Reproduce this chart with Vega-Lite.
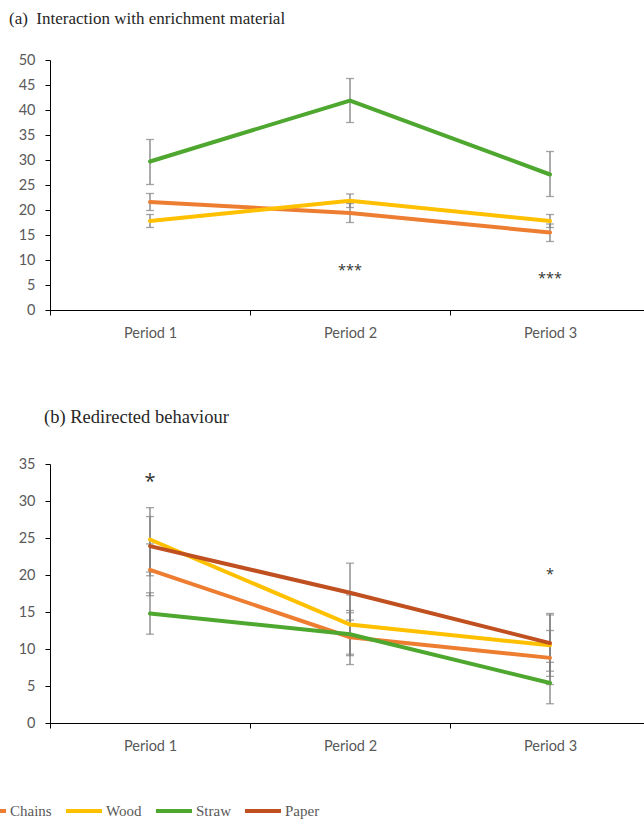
{
  "$schema": "https://vega.github.io/schema/vega-lite/v6.json",
  "padding": {"left": -32, "top": 10, "right": 0, "bottom": 0},
  "background": "white",
  "datasets": {
    "a": [
      {"period": "Period 1", "series": "Chains", "mean": 21.6, "lo": 19.9, "hi": 23.3},
      {"period": "Period 2", "series": "Chains", "mean": 19.4, "lo": 17.5, "hi": 21.3},
      {"period": "Period 3", "series": "Chains", "mean": 15.5, "lo": 13.7, "hi": 17.2},
      {"period": "Period 1", "series": "Wood", "mean": 17.8, "lo": 16.5, "hi": 19.1},
      {"period": "Period 2", "series": "Wood", "mean": 21.85, "lo": 20.5, "hi": 23.2},
      {"period": "Period 3", "series": "Wood", "mean": 17.8, "lo": 16.5, "hi": 19.1},
      {"period": "Period 1", "series": "Straw", "mean": 29.7, "lo": 25.1, "hi": 34.1},
      {"period": "Period 2", "series": "Straw", "mean": 41.9, "lo": 37.5, "hi": 46.3},
      {"period": "Period 3", "series": "Straw", "mean": 27.1, "lo": 22.7, "hi": 31.7}
    ],
    "b": [
      {"period": "Period 1", "series": "Chains", "mean": 20.7, "lo": 17.2, "hi": 24.2},
      {"period": "Period 2", "series": "Chains", "mean": 11.6, "lo": 7.9, "hi": 15.2},
      {"period": "Period 3", "series": "Chains", "mean": 8.8, "lo": 5.2, "hi": 12.5},
      {"period": "Period 1", "series": "Wood", "mean": 24.8, "lo": 20.4, "hi": 29.1},
      {"period": "Period 2", "series": "Wood", "mean": 13.3, "lo": 9.3, "hi": 17.3},
      {"period": "Period 3", "series": "Wood", "mean": 10.5, "lo": 6.3, "hi": 14.6},
      {"period": "Period 1", "series": "Straw", "mean": 14.8, "lo": 12.0, "hi": 17.6},
      {"period": "Period 2", "series": "Straw", "mean": 12.0, "lo": 9.1, "hi": 14.9},
      {"period": "Period 3", "series": "Straw", "mean": 5.4, "lo": 2.6, "hi": 8.2},
      {"period": "Period 1", "series": "Paper", "mean": 23.9, "lo": 19.9, "hi": 27.9},
      {"period": "Period 2", "series": "Paper", "mean": 17.6, "lo": 13.9, "hi": 21.6},
      {"period": "Period 3", "series": "Paper", "mean": 10.8, "lo": 7.0, "hi": 14.8}
    ],
    "sigA": [
      {"period": "Period 2", "y": 8.7, "label": "***"},
      {"period": "Period 3", "y": 7.0, "label": "***"}
    ],
    "sigB": [
      {"period": "Period 1", "y": 33.2, "label": "*"},
      {"period": "Period 3", "y": 20.5, "label": "*"}
    ]
  },
  "config": {
    "view": {"stroke": null},
    "axis": {
      "grid": false,
      "domainColor": "#000000",
      "tickColor": "#000000",
      "domainWidth": 1,
      "tickWidth": 1,
      "tickSize": 5,
      "labelColor": "#595959",
      "labelFont": "Lato",
      "labelFontSize": 14.5,
      "title": null
    },
    "title": {
      "font": "Liberation Serif",
      "fontWeight": "normal",
      "color": "#262626",
      "anchor": "start",
      "frame": "group",
      "baseline": "alphabetic"
    }
  },
  "bounds": "flush",
  "spacing": 154,
  "resolve": {"scale": {"color": "independent"}},
  "vconcat": [
    {
      "width": 600,
      "height": 250,
      "title": {"text": "(a)\u00a0 Interaction with enrichment material", "fontSize": 17, "dx": -41, "offset": 24},
      "encoding": {
        "x": {
          "field": "period",
          "type": "nominal",
          "scale": {"type": "band", "paddingInner": 0, "paddingOuter": 0},
          "axis": {"tickBand": "extent", "labelAngle": 0, "labelPadding": 11}
        }
      },
      "layer": [
        {
          "data": {"name": "a"},
          "mark": {"type": "rule", "color": "#7f7f7f", "strokeWidth": 1.3},
          "encoding": {
            "y": {"field": "lo", "type": "quantitative", "scale": {"domain": [0, 50]}, "axis": {"values": [0, 5, 10, 15, 20, 25, 30, 35, 40, 45, 50], "labelPadding": 10}},
            "y2": {"field": "hi"}
          }
        },
        {
          "data": {"name": "a"},
          "mark": {"type": "tick", "color": "#7f7f7f", "thickness": 1.3, "size": 8},
          "encoding": {"y": {"field": "lo", "type": "quantitative", "axis": {"values": [0, 5, 10, 15, 20, 25, 30, 35, 40, 45, 50], "labelPadding": 10}}}
        },
        {
          "data": {"name": "a"},
          "mark": {"type": "tick", "color": "#7f7f7f", "thickness": 1.3, "size": 8},
          "encoding": {"y": {"field": "hi", "type": "quantitative", "axis": {"values": [0, 5, 10, 15, 20, 25, 30, 35, 40, 45, 50], "labelPadding": 10}}}
        },
        {
          "data": {"name": "a"},
          "mark": {"type": "line", "strokeWidth": 4, "strokeCap": "round"},
          "encoding": {
            "y": {"field": "mean", "type": "quantitative", "axis": {"values": [0, 5, 10, 15, 20, 25, 30, 35, 40, 45, 50], "labelPadding": 10}},
            "color": {
              "field": "series",
              "type": "nominal",
              "scale": {"domain": ["Chains", "Wood", "Straw"], "range": ["#ED7D31", "#FFC000", "#4EA72E"]},
              "legend": null
            },
            "order": {"field": "period"}
          }
        },
        {
          "data": {"name": "sigA"},
          "mark": {"type": "text", "fontSize": 14.5, "font": "Open Sans", "color": "#333333", "baseline": "alphabetic", "dy": 8},
          "encoding": {
            "y": {"field": "y", "type": "quantitative", "axis": {"values": [0, 5, 10, 15, 20, 25, 30, 35, 40, 45, 50], "labelPadding": 10}},
            "text": {"field": "label"}
          }
        }
      ]
    },
    {
      "width": 600,
      "height": 259,
      "title": {"text": "(b) Redirected behaviour", "fontSize": 18.5, "dx": -6, "offset": 30},
      "encoding": {
        "x": {
          "field": "period",
          "type": "nominal",
          "scale": {"type": "band", "paddingInner": 0, "paddingOuter": 0},
          "axis": {"tickBand": "extent", "labelAngle": 0, "labelPadding": 11}
        }
      },
      "layer": [
        {
          "data": {"name": "b"},
          "mark": {"type": "rule", "color": "#7f7f7f", "strokeWidth": 1.3},
          "encoding": {
            "y": {"field": "lo", "type": "quantitative", "scale": {"domain": [0, 35]}, "axis": {"values": [0, 5, 10, 15, 20, 25, 30, 35], "labelPadding": 10}},
            "y2": {"field": "hi"}
          }
        },
        {
          "data": {"name": "b"},
          "mark": {"type": "tick", "color": "#7f7f7f", "thickness": 1.3, "size": 8},
          "encoding": {"y": {"field": "lo", "type": "quantitative", "axis": {"values": [0, 5, 10, 15, 20, 25, 30, 35], "labelPadding": 10}}}
        },
        {
          "data": {"name": "b"},
          "mark": {"type": "tick", "color": "#7f7f7f", "thickness": 1.3, "size": 8},
          "encoding": {"y": {"field": "hi", "type": "quantitative", "axis": {"values": [0, 5, 10, 15, 20, 25, 30, 35], "labelPadding": 10}}}
        },
        {
          "data": {"name": "b"},
          "mark": {"type": "line", "strokeWidth": 4, "strokeCap": "round"},
          "encoding": {
            "y": {"field": "mean", "type": "quantitative", "axis": {"values": [0, 5, 10, 15, 20, 25, 30, 35], "labelPadding": 10}},
            "color": {
              "field": "series",
              "type": "nominal",
              "scale": {"domain": ["Chains", "Wood", "Straw", "Paper"], "range": ["#ED7D31", "#FFC000", "#4EA72E", "#C0501F"]},
              "legend": {
                "orient": "none",
                "legendX": -82,
                "legendY": 327,
                "direction": "horizontal",
                "title": null,
                "symbolType": "stroke",
                "symbolSize": 1296,
                "symbolStrokeWidth": 4,
                "labelFont": "Liberation Serif",
                "labelFontSize": 15,
                "labelColor": "#595959",
                "labelOffset": 2,
                "columnPadding": 6,
                "padding": 0
              }
            },
            "order": {"field": "period"}
          }
        },
        {
          "data": {"name": "sigB"},
          "transform": [{"filter": "datum.period === 'Period 1'"}],
          "mark": {"type": "text", "fontSize": 20, "font": "Open Sans", "color": "#333333", "baseline": "alphabetic", "dy": 11},
          "encoding": {
            "y": {"field": "y", "type": "quantitative", "axis": {"values": [0, 5, 10, 15, 20, 25, 30, 35], "labelPadding": 10}},
            "text": {"field": "label"}
          }
        },
        {
          "data": {"name": "sigB"},
          "transform": [{"filter": "datum.period === 'Period 3'"}],
          "mark": {"type": "text", "fontSize": 14.5, "font": "Open Sans", "color": "#333333", "baseline": "alphabetic", "dy": 8},
          "encoding": {
            "y": {"field": "y", "type": "quantitative", "axis": {"values": [0, 5, 10, 15, 20, 25, 30, 35], "labelPadding": 10}},
            "text": {"field": "label"}
          }
        }
      ]
    }
  ]
}
